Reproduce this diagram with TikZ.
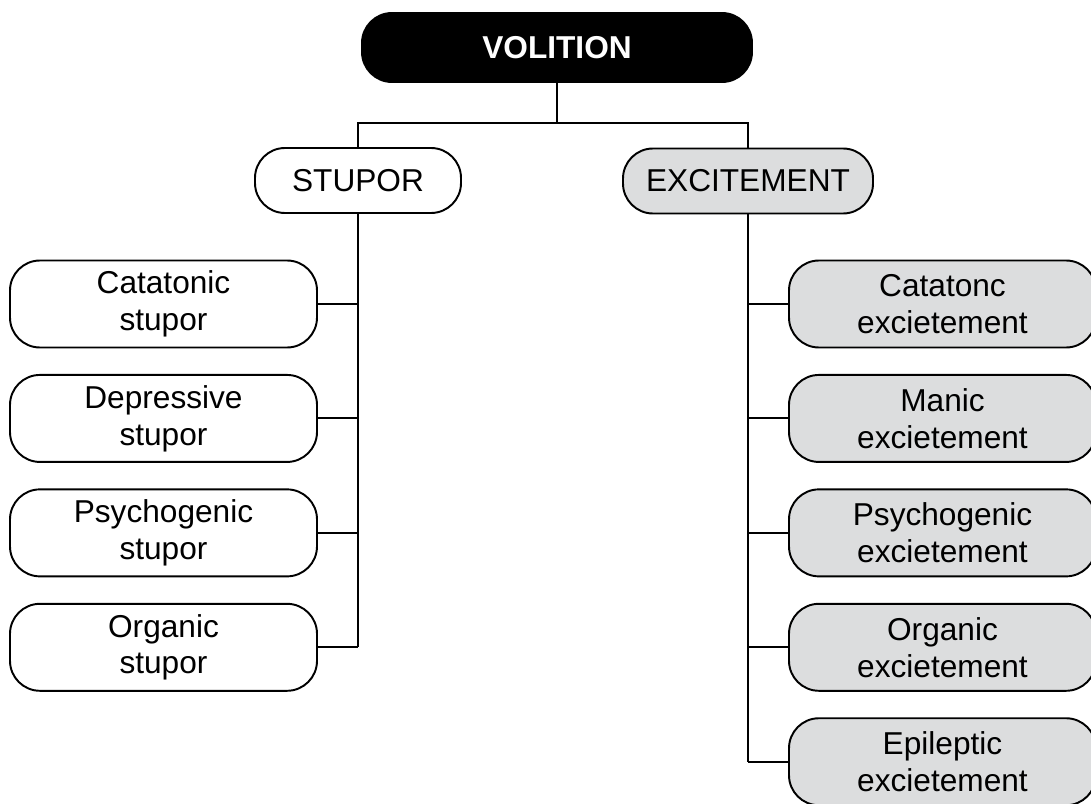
\documentclass[tikz,border=0pt]{standalone}
\usepackage{fontspec}
\setmainfont{Liberation Sans}
\usetikzlibrary{positioning}

\definecolor{boxgray}{RGB}{220,221,222}

\begin{document}
\begin{tikzpicture}[
            line width=1.1pt,
            every node/.style={
                    rectangle,
                    rounded corners=0.6cm,
                    draw=black,
                    align=center,
                    font=\fontsize{18}{21}\selectfont
                },
            root/.style={
                    fill=black,
                    text=white,
                    minimum width=7.8cm,
                    minimum height=1.38cm,
                    font=\fontsize{18}{21}\selectfont\bfseries
                },
            levelone/.style={
                    minimum height=1.3cm
                },
            leveltwo/.style={
                    minimum width=6.14cm,
                    minimum height=1.74cm
                },
            shaded/.style={
                    fill=boxgray
                }
        ]

        \useasboundingbox (0,0) rectangle (21.82,-16.08);

        \node[root] (volition) at (11.14,-0.95) {VOLITION};
        \node[levelone, minimum width=4.12cm] (stupor) at (7.16,-3.61) {STUPOR};
        \node[levelone, shaded, minimum width=5.0cm] (excitement) at (14.96,-3.62) {EXCITEMENT};

        % stupor side
        \node[leveltwo] (catstupor) at (3.27,-6.08) {Catatonic\\stupor};
        \node[leveltwo, below=0.51cm of catstupor] (depstupor) {Depressive\\stupor};
        \node[leveltwo, below=0.51cm of depstupor] (psystupor) {Psychogenic\\stupor};
        \node[leveltwo, below=0.51cm of psystupor] (orgstupor) {Organic\\stupor};

        % excitement side
        \node[leveltwo, shaded] (catexcite) at (18.85,-6.08) {Catatonc\\excietement};
        \node[leveltwo, shaded, below=0.51cm of catexcite] (manexcite) {Manic\\excietement};
        \node[leveltwo, shaded, below=0.51cm of manexcite] (psyexcite) {Psychogenic\\excietement};
        \node[leveltwo, shaded, below=0.51cm of psyexcite] (orgexcite) {Organic\\excietement};
        \node[leveltwo, shaded, below=0.51cm of orgexcite] (epiexcite) {Epileptic\\excietement};

        % connectors
        \coordinate (bus) at (11.14,-2.46);
        \draw (volition.south) -- (bus);
        \draw (stupor.north) -- (stupor.north |- bus) -- (excitement.north |- bus) -- (excitement.north);

        \draw (stupor.south) -- (stupor.south |- orgstupor.east);
        \foreach \n in {catstupor,depstupor,psystupor,orgstupor}
            \draw (\n.east) -- (stupor.south |- \n.east);

        \draw (excitement.south) -- (excitement.south |- epiexcite.west);
        \foreach \n in {catexcite,manexcite,psyexcite,orgexcite,epiexcite}
            \draw (\n.west) -- (excitement.south |- \n.west);

    \end{tikzpicture}
\end{document}
